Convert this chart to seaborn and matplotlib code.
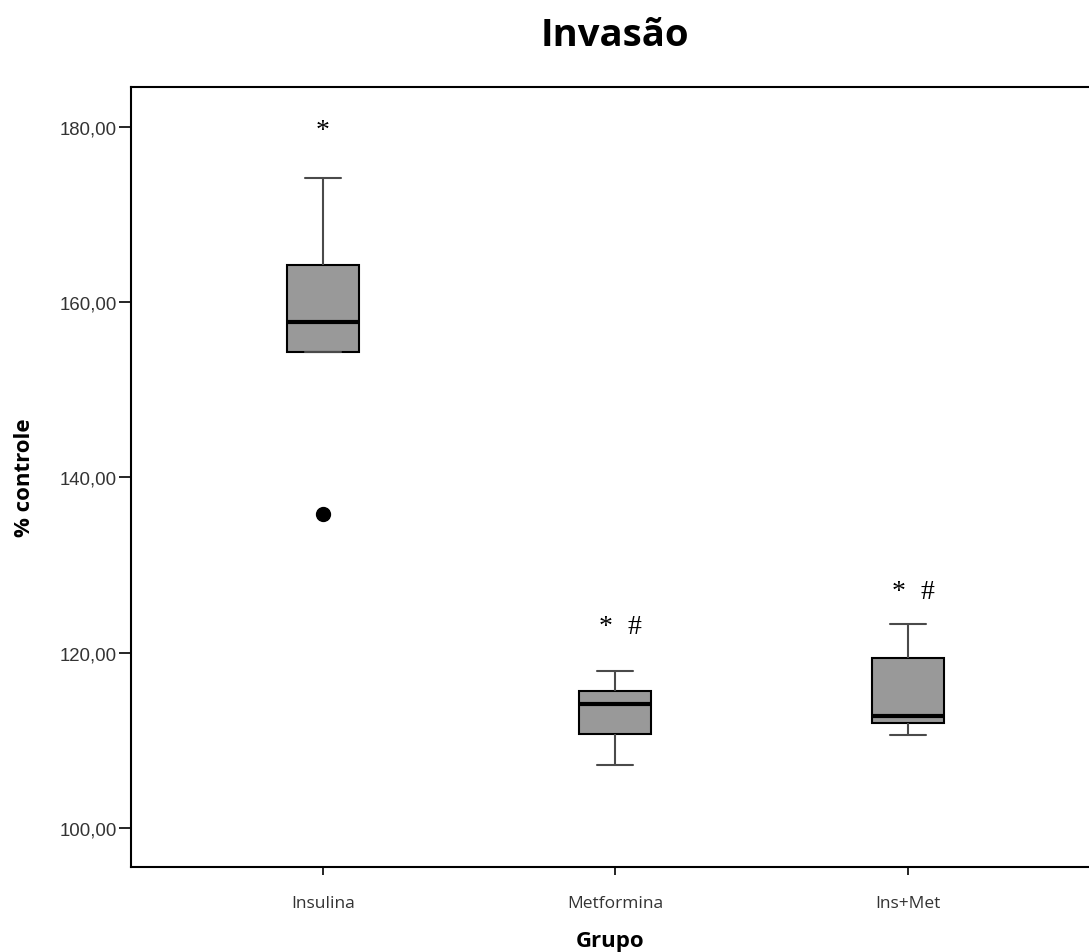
import numpy as np
import pandas as pd
import seaborn as sns
import matplotlib.pyplot as plt

insulina = [135.8, 154.3, 154.3, 161.2, 165.3, 174.2]
metformina = [107.1, 109.8, 113.5, 114.8, 115.9, 117.9]
ins_met = [110.6, 111.7, 112.5, 113.1, 121.4, 123.2]
groups = ['Insulina', 'Metformina', 'Ins+Met']

# significance marks above each box
star_y = [179.6, 123.0, 127.0]
has_hash = [False, True, True]

df = pd.DataFrame({
    'Grupo': ['Insulina'] * len(insulina) + ['Metformina'] * len(metformina)
             + ['Ins+Met'] * len(ins_met),
    'valor': insulina + metformina + ins_met,
})

sns.set_style('white')
plt.rcParams['font.family'] = ['Open Sans', 'DejaVu Sans']
plt.rcParams['text.color'] = 'black'

fig = plt.figure(figsize=(10.89, 9.53), dpi=100)
ax = fig.add_axes([0.1203, 0.0892, 0.8797, 0.8185])

sns.boxplot(data=df, x='Grupo', y='valor', order=groups, ax=ax,
            width=0.246, color='#999999', saturation=1, linewidth=1.5,
            linecolor='black',
            medianprops=dict(color='black', linewidth=3),
            whiskerprops=dict(color='#4a4a4a', linewidth=1.5),
            capprops=dict(color='#4a4a4a', linewidth=1.5),
            flierprops=dict(marker='o', markerfacecolor='black',
                            markeredgecolor='black', markersize=10))

for i, (yv, h) in enumerate(zip(star_y, has_hash)):
    if h:
        ax.text(i - 0.033, yv, '*', ha='center', va='center', fontsize=20,
                family='Liberation Serif', color='black')
        ax.text(i + 0.066, yv, '#', ha='center', va='center', fontsize=20,
                family='Liberation Serif', color='black')
    else:
        ax.text(i, yv, '*', ha='center', va='center', fontsize=20,
                family='Liberation Serif', color='black')

ax.set_xlim(-0.655, 2.619)
ax.set_ylim(95.5, 184.6)
ax.set_yticks([100, 120, 140, 160, 180])
ax.set_yticklabels(['100,00', '120,00', '140,00', '160,00', '180,00'],
                   family='Liberation Sans', fontsize=13.4, color='#333333')
ax.set_xticks(range(len(groups)))
ax.set_xticklabels(groups, fontsize=12.5, color='#333333')
ax.tick_params(axis='both', direction='out', width=1.2,
               color='black', bottom=True, left=True)
ax.tick_params(axis='y', length=9, pad=1)
ax.tick_params(axis='x', length=6, pad=14)

for side in ['left', 'bottom', 'top']:
    ax.spines[side].set_color('black')
    ax.spines[side].set_linewidth(1.5)
ax.spines['right'].set_visible(False)

ax.set_xlabel('Grupo', fontsize=16, fontweight='bold', labelpad=14,
              color='black')
ax.set_ylabel('% controle', fontsize=16, fontweight='bold', labelpad=18,
              color='black')
fig.text(0.565, 0.962, 'Invasão', fontsize=27.5, fontweight='bold',
         ha='center', va='center', color='black')

fig.savefig('out.png', dpi=100)
